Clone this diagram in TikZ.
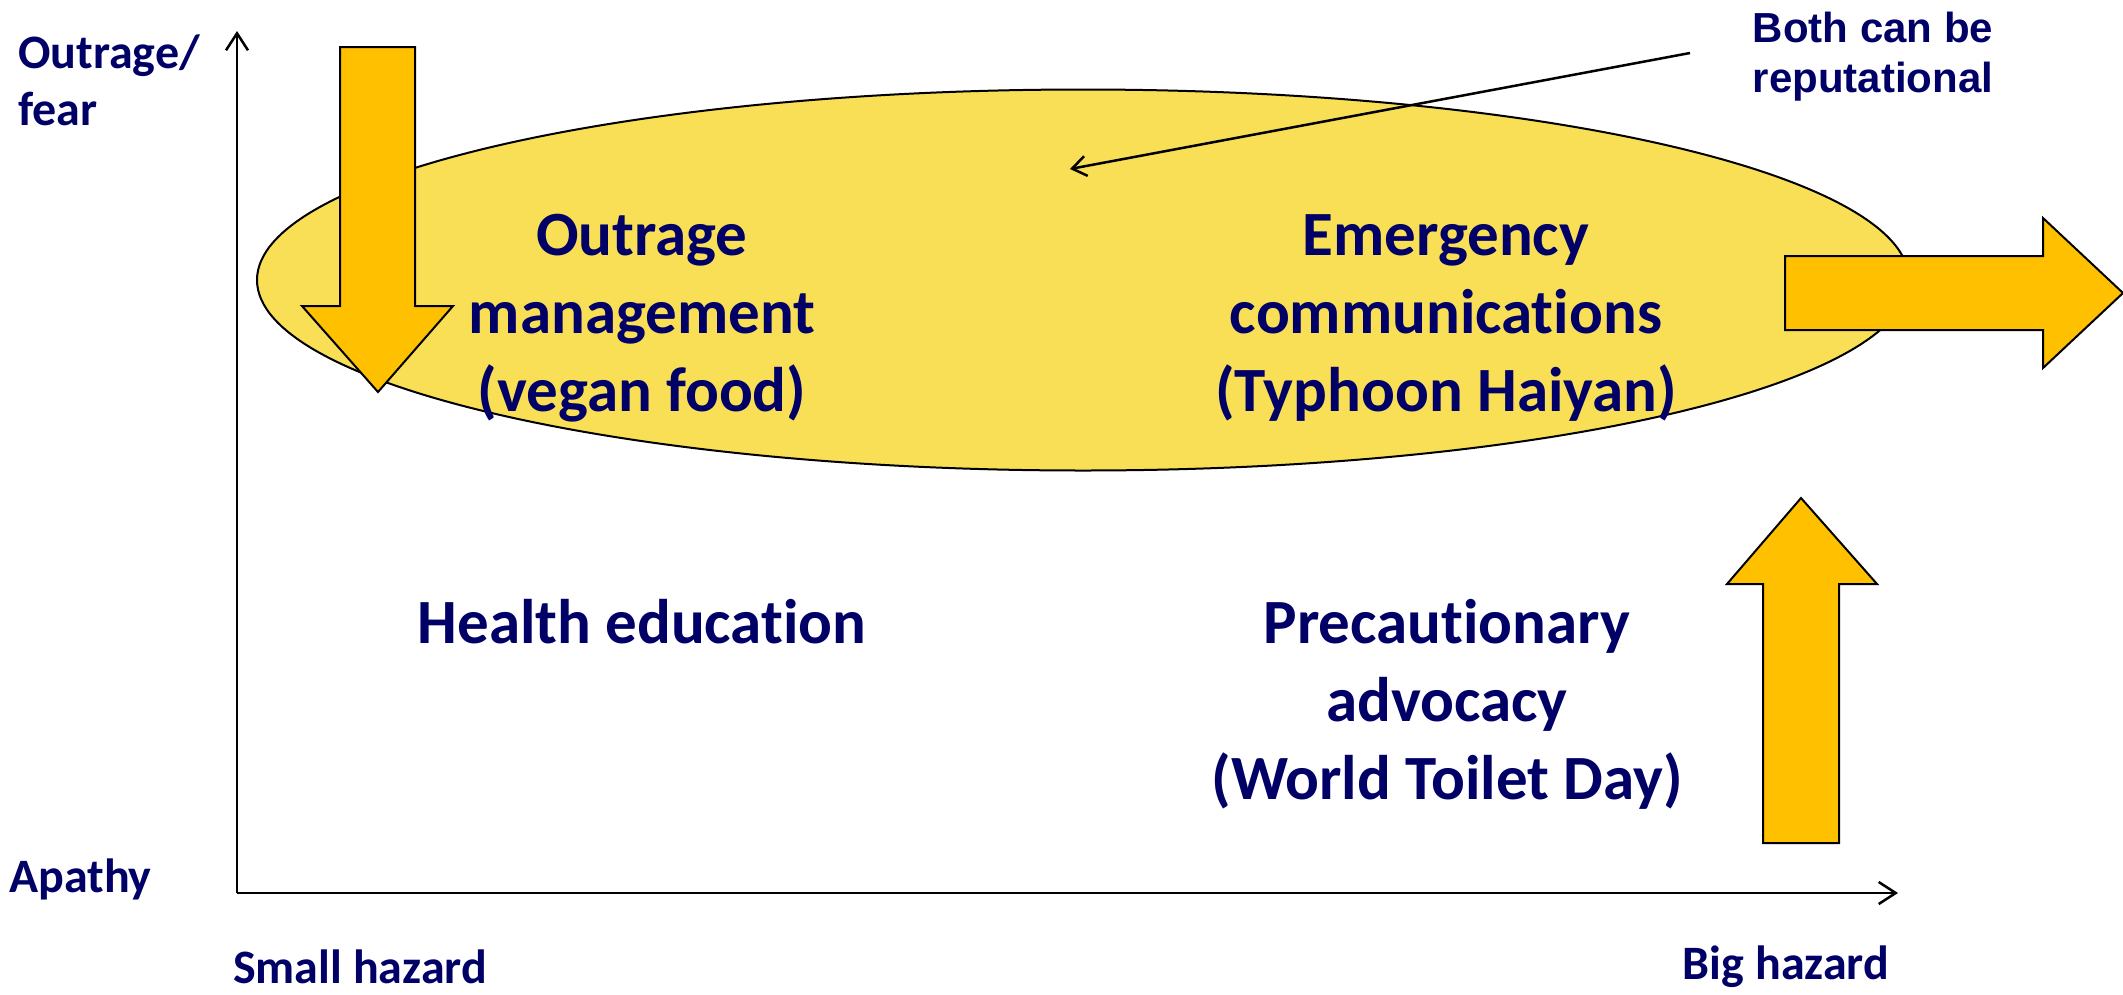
\documentclass[tikz,border=0pt]{standalone}
\usepackage{fontspec}
\setmainfont{Carlito}[Ligatures=NoCommon]
\newfontfamily\arialfont{Liberation Sans}
\usetikzlibrary{shapes.geometric,arrows.meta}
\definecolor{navy}{HTML}{000066}
\definecolor{ellfill}{HTML}{F9DF55}
\definecolor{arrfill}{HTML}{FFC000}
\tikzset{
  axisline/.style={line width=2.5pt, -{Straight Barb[length=17pt,width=22pt,line width=2.5pt]}},
  fatarrow/.style={draw=black, line width=2pt, fill=arrfill, line join=miter},
  mainlabel/.style={text=navy, align=center, inner sep=0pt, font=\bfseries\fontsize{63}{78}\selectfont},
  sidelabel/.style={text=navy, align=left, inner sep=0pt, font=\bfseries\fontsize{48}{57}\selectfont},
  notelabel/.style={text=navy, align=center, inner sep=0pt, font=\arialfont\bfseries\fontsize{42}{50}\selectfont},
}
\begin{document}
\begin{tikzpicture}[x=1pt,y=-1pt]
\useasboundingbox (0,0) rectangle (2123,994);
% ellipse
\node (ell) [ellipse, draw=black, line width=2pt, fill=ellfill, minimum width=1652pt, minimum height=381pt, inner sep=0pt] at (1083,280) {};
% axes
\coordinate (origin) at (237,893);
\coordinate (ytop) at (237,31);
\coordinate (xend) at (1898,893);
\draw[axisline] (origin) -- (ytop);
\draw[axisline] (origin) -- (xend);
% fat arrows
\draw[fatarrow] (340,47) -- (415,47) -- (415,306) -- (453,306) -- (378,392) -- (302,306) -- (340,306) -- cycle;
\draw[fatarrow] (1785,256) -- (2043,256) -- (2043,218) -- (2123,293) -- (2043,368) -- (2043,330) -- (1785,330) -- cycle;
\draw[fatarrow] (1763,843) -- (1839,843) -- (1839,584) -- (1877,584) -- (1801,498) -- (1727,584) -- (1763,584) -- cycle;
% labels
\node[sidelabel, anchor=north west] (yl) at (18,35) {Outrage/\\fear};
\node[sidelabel, anchor=west] (apathy) at (9,879) {Apathy};
\node[sidelabel, anchor=west] (small) at (233,967) {Small hazard};
\node[sidelabel] (big) at (1786,967) {Big hazard};
\node[mainlabel] (om) at (642,318) {Outrage\\management\\(vegan food)};
\node[mainlabel] (ec) at (1446,318) {Emergency\\communications\\(Typhoon Haiyan)};
\node[mainlabel] (he) at (642,622) {Health education};
\node[mainlabel] (pa) at (1447,704) {Precautionary\\advocacy\\(World Toilet Day)};
\node[notelabel] (note) at (1873,57) {Both can be\\reputational};
% note arrow
\coordinate (nstart) at (1690,53);
\coordinate (nend) at (1070,169);
\draw[line width=2.5pt, -{Straight Barb[length=14pt,width=20pt,line width=2.5pt]}] (nstart) -- (nend);
\end{tikzpicture}
\end{document}
